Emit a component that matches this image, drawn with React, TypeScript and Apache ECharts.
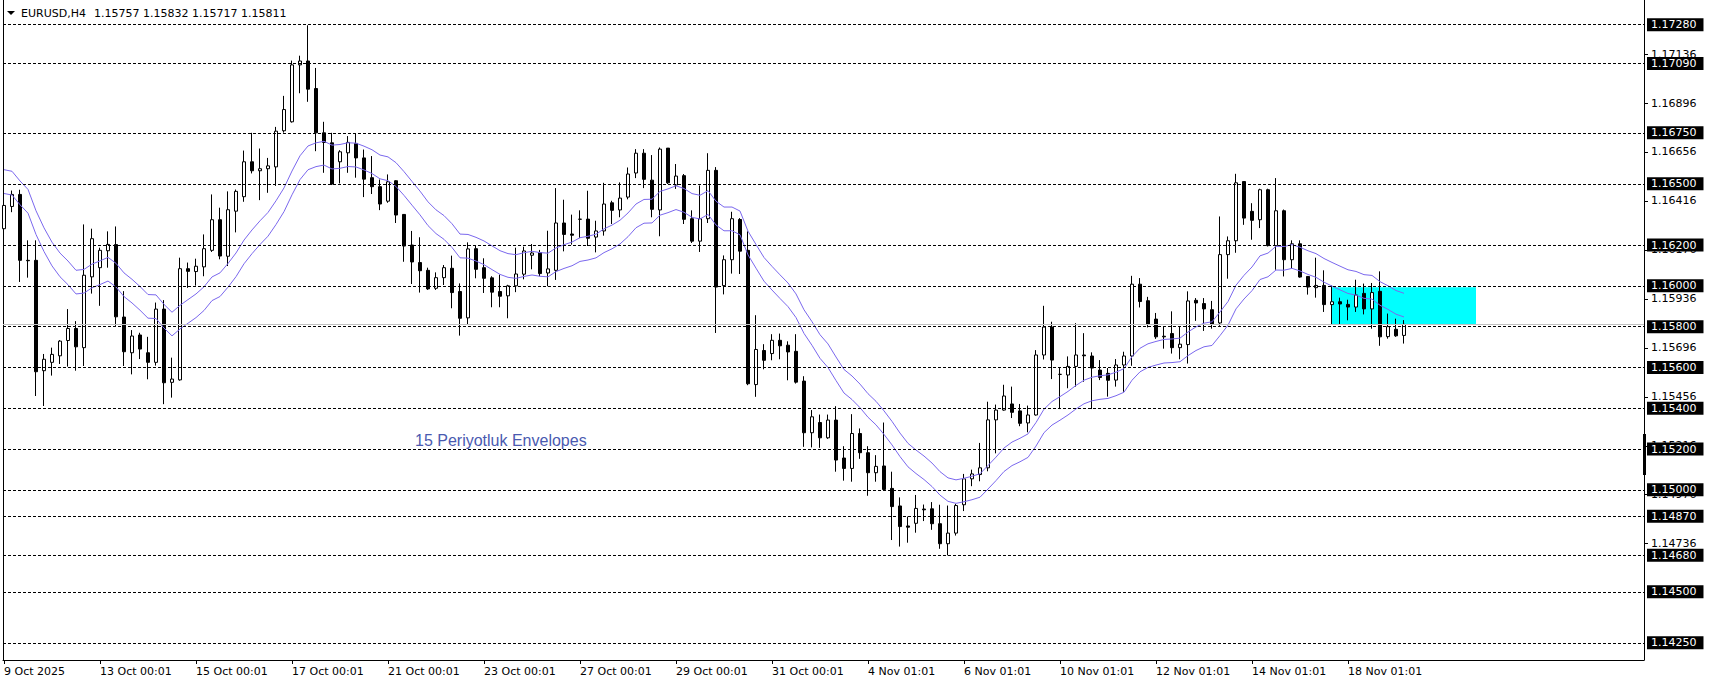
import React, { useEffect, useRef } from "react";
import * as echarts from "echarts";

// ---- header ----
const SYMBOL = "EURUSD,H4";
const HEADER_OHLC = ["1.15757", "1.15832", "1.15717", "1.15811"];
const NOTE_TEXT = "15 Periyotluk Envelopes";

// ---- candles (H4 bars, oldest first) ----
const OPEN = [
  1.16280, 1.16389, 1.16448, 1.16125, 1.16125, 1.15584, 1.15625, 1.15657, 1.15732, 1.15791,
  1.15697, 1.16044, 1.16089, 1.16172, 1.16202, 1.15847, 1.15672, 1.15759, 1.15672, 1.15625,
  1.15886, 1.15527, 1.15539, 1.16084, 1.16070, 1.16093, 1.16174, 1.16324, 1.16145, 1.16366,
  1.16437, 1.16608, 1.16564, 1.16574, 1.16583, 1.16760, 1.16804, 1.17083, 1.17102, 1.16967,
  1.16750, 1.16701, 1.16608, 1.16652, 1.16698, 1.16627, 1.16530, 1.16486, 1.16415, 1.16515,
  1.16350, 1.16200, 1.16114, 1.16076, 1.15988, 1.16040, 1.16086, 1.15972, 1.15843, 1.16182,
  1.16089, 1.16039, 1.15972, 1.15951, 1.16000, 1.16057, 1.16150, 1.16163, 1.16063, 1.16076,
  1.16308, 1.16254, 1.16326, 1.16327, 1.16239, 1.16269, 1.16407, 1.16372, 1.16435, 1.16553,
  1.16650, 1.16518, 1.16372, 1.16675, 1.16494, 1.16540, 1.16329, 1.16219, 1.16329, 1.16566,
  1.16001, 1.16128, 1.16325, 1.16174, 1.15516, 1.15683, 1.15668, 1.15733, 1.15709, 1.15679,
  1.15533, 1.15280, 1.15330, 1.15255, 1.15342, 1.15156, 1.15105, 1.15276, 1.15182, 1.15084,
  1.15117, 1.15007, 1.14921, 1.14823, 1.14836, 1.14906, 1.14907, 1.14834, 1.14736, 1.14788,
  1.14927, 1.15054, 1.15075, 1.15108, 1.15343, 1.15391, 1.15421, 1.15387, 1.15328, 1.15367,
  1.15661, 1.15798, 1.15566, 1.15563, 1.15605, 1.15661, 1.15656, 1.15587, 1.15571, 1.15538,
  1.15612, 1.15656, 1.16008, 1.15927, 1.15837, 1.15753, 1.15766, 1.15697, 1.15712, 1.15929,
  1.15913, 1.15883, 1.15818, 1.16153, 1.16221, 1.16511, 1.16365, 1.16324, 1.16471, 1.16197,
  1.16368, 1.16128, 1.16206, 1.16046, 1.15991, 1.16002, 1.15908, 1.15922, 1.15909, 1.15896,
  1.15963, 1.15887, 1.15973, 1.15751, 1.15787, 1.15757,
];
const HIGH = [
  1.16405, 1.16467, 1.16471, 1.16223, 1.16223, 1.15666, 1.15697, 1.15734, 1.15886, 1.15827,
  1.16301, 1.16280, 1.16187, 1.16267, 1.16291, 1.15974, 1.15783, 1.15770, 1.15750, 1.15918,
  1.15930, 1.15648, 1.16138, 1.16114, 1.16133, 1.16252, 1.16448, 1.16383, 1.16463, 1.16472,
  1.16663, 1.16750, 1.16673, 1.16627, 1.16779, 1.16931, 1.17104, 1.17128, 1.17277, 1.17068,
  1.16804, 1.16750, 1.16665, 1.16734, 1.16747, 1.16668, 1.16636, 1.16521, 1.16546, 1.16518,
  1.16352, 1.16269, 1.16238, 1.16089, 1.16066, 1.16102, 1.16148, 1.16012, 1.16213, 1.16197,
  1.16135, 1.16047, 1.16055, 1.16005, 1.16187, 1.16192, 1.16205, 1.16176, 1.16270, 1.16479,
  1.16422, 1.16349, 1.16370, 1.16466, 1.16319, 1.16505, 1.16417, 1.16507, 1.16580, 1.16670,
  1.16670, 1.16641, 1.16678, 1.16675, 1.16597, 1.16548, 1.16370, 1.16492, 1.16650, 1.16582,
  1.16149, 1.16363, 1.16332, 1.16267, 1.15856, 1.15714, 1.15763, 1.15766, 1.15728, 1.15763,
  1.15557, 1.15391, 1.15369, 1.15369, 1.15410, 1.15214, 1.15371, 1.15301, 1.15214, 1.15170,
  1.15330, 1.15089, 1.14963, 1.14869, 1.14975, 1.14928, 1.14940, 1.14927, 1.14923, 1.14931,
  1.15078, 1.15099, 1.15230, 1.15432, 1.15418, 1.15515, 1.15506, 1.15421, 1.15413, 1.15685,
  1.15902, 1.15824, 1.15597, 1.15654, 1.15817, 1.15768, 1.15674, 1.15636, 1.15597, 1.15641,
  1.15677, 1.16049, 1.16038, 1.15946, 1.15867, 1.15803, 1.15875, 1.15798, 1.15973, 1.15940,
  1.15940, 1.15926, 1.16340, 1.16242, 1.16549, 1.16511, 1.16405, 1.16476, 1.16476, 1.16528,
  1.16374, 1.16223, 1.16223, 1.16046, 1.16138, 1.16076, 1.16002, 1.15942, 1.15932, 1.16030,
  1.16011, 1.16014, 1.16071, 1.15864, 1.15839, 1.15832,
];
const LOW = [
  1.16226, 1.16361, 1.16019, 1.16040, 1.15460, 1.15411, 1.15560, 1.15617, 1.15604, 1.15584,
  1.15607, 1.15962, 1.15902, 1.16089, 1.15804, 1.15607, 1.15566, 1.15641, 1.15542, 1.15609,
  1.15420, 1.15452, 1.15535, 1.15990, 1.16001, 1.16047, 1.16166, 1.16130, 1.16097, 1.16262,
  1.16412, 1.16551, 1.16420, 1.16456, 1.16490, 1.16751, 1.16800, 1.16944, 1.16902, 1.16660,
  1.16554, 1.16494, 1.16502, 1.16554, 1.16530, 1.16435, 1.16450, 1.16371, 1.16407, 1.16308,
  1.16118, 1.16009, 1.15967, 1.15980, 1.15980, 1.16004, 1.15890, 1.15756, 1.15810, 1.16037,
  1.15965, 1.15895, 1.15895, 1.15841, 1.15969, 1.16032, 1.16081, 1.16047, 1.15998, 1.16029,
  1.16169, 1.16202, 1.16234, 1.16195, 1.16164, 1.16246, 1.16303, 1.16336, 1.16424, 1.16528,
  1.16479, 1.16336, 1.16243, 1.16499, 1.16475, 1.16303, 1.16210, 1.16166, 1.16308, 1.15769,
  1.15958, 1.16060, 1.16058, 1.15513, 1.15456, 1.15591, 1.15635, 1.15640, 1.15537, 1.15521,
  1.15211, 1.15208, 1.15206, 1.15250, 1.15089, 1.15045, 1.15040, 1.15152, 1.14971, 1.15040,
  1.14996, 1.14754, 1.14722, 1.14741, 1.14790, 1.14847, 1.14804, 1.14711, 1.14679, 1.14776,
  1.14896, 1.15018, 1.15042, 1.15091, 1.15179, 1.15388, 1.15352, 1.15312, 1.15282, 1.15364,
  1.15639, 1.15543, 1.15396, 1.15498, 1.15506, 1.15530, 1.15396, 1.15538, 1.15457, 1.15506,
  1.15481, 1.15608, 1.15894, 1.15796, 1.15740, 1.15692, 1.15668, 1.15640, 1.15619, 1.15828,
  1.15779, 1.15790, 1.15804, 1.16035, 1.16162, 1.16299, 1.16226, 1.16283, 1.16193, 1.16079,
  1.16046, 1.16084, 1.16040, 1.15957, 1.15942, 1.15872, 1.15812, 1.15812, 1.15831, 1.15872,
  1.15860, 1.15790, 1.15706, 1.15741, 1.15750, 1.15717,
];
const CLOSE = [
  1.16394, 1.16448, 1.16125, 1.16123, 1.15579, 1.15640, 1.15664, 1.15729, 1.15791, 1.15701,
  1.16052, 1.16231, 1.16174, 1.16203, 1.15848, 1.15677, 1.15754, 1.15690, 1.15625, 1.15886,
  1.15525, 1.15543, 1.16084, 1.16071, 1.16096, 1.16182, 1.16324, 1.16146, 1.16373, 1.16463,
  1.16608, 1.16564, 1.16574, 1.16588, 1.16758, 1.16864, 1.17083, 1.17102, 1.16964, 1.16750,
  1.16703, 1.16499, 1.16657, 1.16703, 1.16627, 1.16523, 1.16486, 1.16401, 1.16510, 1.16347,
  1.16195, 1.16117, 1.16074, 1.15985, 1.16040, 1.16089, 1.15967, 1.15841, 1.16181, 1.16081,
  1.16037, 1.15969, 1.15949, 1.16000, 1.16058, 1.16171, 1.16161, 1.16060, 1.16083, 1.16308,
  1.16252, 1.16248, 1.16327, 1.16233, 1.16269, 1.16401, 1.16370, 1.16430, 1.16548, 1.16650,
  1.16522, 1.16375, 1.16670, 1.16505, 1.16538, 1.16326, 1.16219, 1.16329, 1.16566, 1.15994,
  1.16128, 1.16329, 1.16170, 1.15520, 1.15688, 1.15635, 1.15733, 1.15706, 1.15676, 1.15528,
  1.15280, 1.15358, 1.15255, 1.15342, 1.15146, 1.15105, 1.15276, 1.15182, 1.15084, 1.15115,
  1.15002, 1.14918, 1.14820, 1.14817, 1.14909, 1.14902, 1.14834, 1.14736, 1.14788, 1.14923,
  1.15054, 1.15078, 1.15108, 1.15343, 1.15391, 1.15460, 1.15380, 1.15326, 1.15367, 1.15661,
  1.15798, 1.15636, 1.15566, 1.15605, 1.15661, 1.15657, 1.15597, 1.15551, 1.15537, 1.15612,
  1.15656, 1.16008, 1.15923, 1.15811, 1.15750, 1.15750, 1.15697, 1.15714, 1.15926, 1.15916,
  1.15887, 1.15812, 1.16153, 1.16221, 1.16505, 1.16332, 1.16321, 1.16471, 1.16197, 1.16368,
  1.16128, 1.16206, 1.16043, 1.15994, 1.16002, 1.15908, 1.15922, 1.15911, 1.15896, 1.15955,
  1.15887, 1.15967, 1.15750, 1.15800, 1.15755, 1.15811,
];

// ---- time axis ----
const X_LABELS = [
  "9 Oct 2025", "13 Oct 00:01", "15 Oct 00:01", "17 Oct 00:01", "21 Oct 00:01",
  "23 Oct 00:01", "27 Oct 00:01", "29 Oct 00:01", "31 Oct 00:01", "4 Nov 01:01",
  "6 Nov 01:01", "10 Nov 01:01", "12 Nov 01:01", "14 Nov 01:01", "18 Nov 01:01",
];
const BARS_PER_LABEL = 12;
const TOTAL_SLOTS = 205; // bars + empty right margin

// ---- price axis ----
const SCALE_TICKS = [
  1.17136, 1.16896, 1.16656, 1.16416, 1.16176, 1.15936,
  1.15696, 1.15456, 1.15216, 1.14976, 1.14736,
];
const LEVELS = [
  1.1728, 1.1709, 1.1675, 1.165, 1.162, 1.16, 1.158,
  1.156, 1.154, 1.152, 1.15, 1.1487, 1.1468, 1.145, 1.1425,
];
const BID = 1.15811;
const Y_MIN = 1.14166;
const Y_MAX = 1.17401;

// ---- zone ----
const ZONE_FROM_BAR = 166;
const ZONE_TO_BAR = 184;
const ZONE_TOP = 1.15993;
const ZONE_BOTTOM = 1.15811;

// ---- envelopes (EMA 15 of close, deviation %) ----
const ENV_PERIOD = 15;
const ENV_DEVIATION = 0.05;
const ENV_START = 1.16511; // indicator value at first visible bar

const FONT = "DejaVu Sans";

export default function App() {
  const ref = useRef<HTMLDivElement>(null);

  useEffect(() => {
    if (!ref.current) return;
    const chart = echarts.init(ref.current, undefined, { renderer: "svg" });

    const categories = Array.from({ length: TOTAL_SLOTS }, (_, i) => String(i));
    const labelAt = (i: number) =>
      i % BARS_PER_LABEL === 0 ? X_LABELS[i / BARS_PER_LABEL] : undefined;

    const candles = OPEN.map((o, i) => [o, CLOSE[i], LOW[i], HIGH[i]]);

    const k = 2 / (ENV_PERIOD + 1);
    const mid: number[] = [];
    let e = ENV_START;
    CLOSE.forEach((c, i) => {
      if (i > 0) e = e + k * (c - e);
      mid.push(e);
    });
    const upper = mid.map((m) => +(m * (1 + ENV_DEVIATION / 100)).toFixed(6));
    const lower = mid.map((m) => +(m * (1 - ENV_DEVIATION / 100)).toFixed(6));

    const option: any = {
      animation: false,
      backgroundColor: "#ffffff",
      grid: [
        { left: 0, top: 0, width: 8 * TOTAL_SLOTS, bottom: 24, show: false },
        { left: 3, top: 0, right: 65, bottom: 24, show: false },
      ],
      xAxis: [
        {
          gridIndex: 0,
          type: "category",
          data: categories,
          boundaryGap: true,
          axisLine: { show: false },
          axisTick: {
            show: true,
            alignWithLabel: true,
            length: 4,
            interval: (i: number) => labelAt(i) !== undefined,
            lineStyle: { color: "#000" },
          },
          axisLabel: {
            interval: (i: number) => labelAt(i) !== undefined,
            formatter: (_v: string, i: number) => labelAt(i) ?? "",
            align: "left",
            margin: 6,
            color: "#000",
            fontFamily: FONT,
            fontSize: 11,
          },
          splitLine: { show: false },
        },
        {
          gridIndex: 1,
          type: "value",
          min: 0,
          max: 1,
          axisLine: { show: true, onZero: false, lineStyle: { color: "#000", width: 1 } },
          axisTick: { show: false },
          axisLabel: { show: false },
          splitLine: { show: false },
        },
      ],
      yAxis: [
        { gridIndex: 0, type: "value", min: Y_MIN, max: Y_MAX, show: false },
        {
          gridIndex: 1,
          type: "value",
          position: "right",
          min: Y_MIN,
          max: Y_MAX,
          axisLine: { show: true, onZero: false, lineStyle: { color: "#000", width: 1 } },
          axisTick: {
            show: true,
            customValues: SCALE_TICKS,
            length: 4,
            lineStyle: { color: "#000" },
          },
          axisLabel: {
            show: true,
            customValues: SCALE_TICKS,
            formatter: (v: number) => v.toFixed(5),
            margin: 7,
            color: "#000",
            fontFamily: FONT,
            fontSize: 11,
          },
          splitLine: { show: false },
        },
        {
          gridIndex: 1,
          type: "value",
          position: "left",
          min: Y_MIN,
          max: Y_MAX,
          axisLine: { show: true, onZero: false, lineStyle: { color: "#000", width: 1 } },
          axisTick: { show: false },
          axisLabel: { show: false },
          splitLine: { show: false },
        },
      ],
      series: [
        {
          name: "levels",
          type: "line",
          xAxisIndex: 1,
          yAxisIndex: 1,
          data: [],
          silent: true,
          markLine: {
            silent: true,
            animation: false,
            precision: 5,
            symbol: ["none", "none"],
            lineStyle: { color: "#000", width: 1, type: [3, 2] },
            label: {
              show: true,
              position: "end",
              distance: 3,
              formatter: (p: any) => Number(p.value).toFixed(5),
              color: "#fff",
              backgroundColor: "#000",
              padding: [1, 7, 0, 4],
              fontFamily: FONT,
              fontSize: 11,
              lineHeight: 12,
            },
            data: [
              {
                yAxis: BID,
                lineStyle: { type: "solid", color: "#c0c0c0", width: 1 },
                label: { show: false },
              },
              ...LEVELS.map((v) => ({ yAxis: v })),
            ],
          },
        },
        {
          name: "EURUSD",
          type: "candlestick",
          xAxisIndex: 0,
          yAxisIndex: 0,
          data: candles,
          barWidth: 4,
          itemStyle: {
            color: "#ffffff",
            color0: "#000000",
            borderColor: "#000000",
            borderColor0: "#000000",
            borderColorDoji: "#000000",
            borderWidth: 1,
          },
          markArea: {
            silent: true,
            itemStyle: { color: "#00ffff", opacity: 1 },
            data: [
              [
                { xAxis: ZONE_FROM_BAR, yAxis: ZONE_TOP },
                { xAxis: ZONE_TO_BAR, yAxis: ZONE_BOTTOM },
              ],
            ],
          },
        },
        {
          name: "Envelope upper",
          type: "line",
          xAxisIndex: 0,
          yAxisIndex: 0,
          data: upper,
          symbol: "none",
          showSymbol: false,
          lineStyle: { color: "#7b68ee", width: 1 },
          silent: true,
        },
        {
          name: "Envelope lower",
          type: "line",
          xAxisIndex: 0,
          yAxisIndex: 0,
          data: lower,
          symbol: "none",
          showSymbol: false,
          lineStyle: { color: "#7b68ee", width: 1 },
          silent: true,
        },
      ],
      graphic: [
        {
          type: "polygon",
          shape: { points: [[7, 11], [15, 11], [11, 15]] },
          style: { fill: "#000" },
        },
        {
          type: "text",
          x: 21,
          y: 13,
          style: {
            text: SYMBOL,
            font: `11px "${FONT}"`,
            fill: "#000",
            align: "left",
            verticalAlign: "middle",
          },
        },
        {
          type: "text",
          x: 94,
          y: 13,
          style: {
            text: HEADER_OHLC.join(" "),
            font: `11px "${FONT}"`,
            fill: "#000",
            align: "left",
            verticalAlign: "middle",
          },
        },
        {
          type: "text",
          x: 415,
          y: 440,
          style: {
            text: NOTE_TEXT,
            font: `16px "Liberation Sans"`,
            fill: "#4a5ab0",
            align: "left",
            verticalAlign: "middle",
          },
        },
        {
          type: "rect",
          shape: { x: 1643, y: 434, width: 3, height: 41 },
          style: { fill: "#000" },
        },
      ],
    };

    chart.setOption(option);
    return () => chart.dispose();
  }, []);

  return (
    <div
      ref={ref}
      style={{ position: "absolute", left: 0, top: 0, width: 1709, height: 684 }}
    />
  );
}
